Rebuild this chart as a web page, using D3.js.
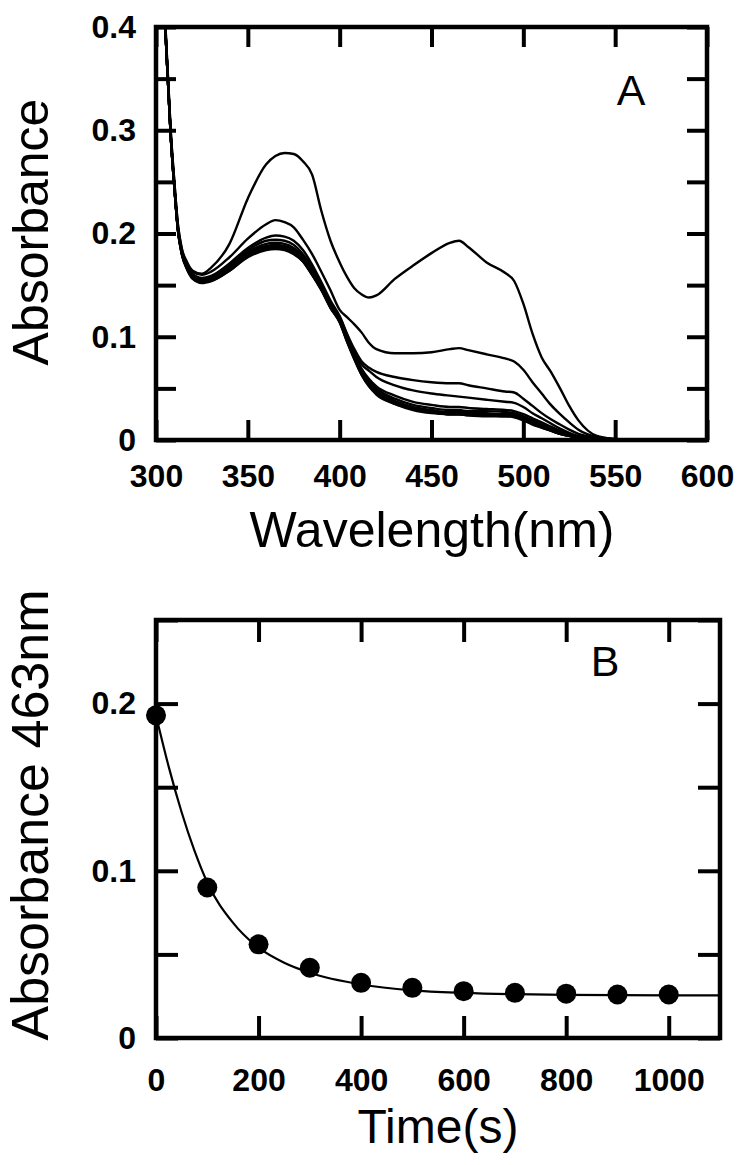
<!DOCTYPE html>
<html><head><meta charset="utf-8">
<script src="https://cdn.jsdelivr.net/npm/d3@7"></script>
<style>body{margin:0;background:#fff} svg{display:block}</style>
</head><body>
<script>
// ---------- Panel A data: spectra (Absorbance vs wavelength) ----------
const wavelengths = [300,302,304,306,308,310,312,314,317,320,325,330,340,350,360,365,370,375,380,385,390,395,400,404,408,412,416,420,430,440,450,460,465,470,480,490,495,500,505,510,515,520,525,530,540,550,560];
const spec_t0    = [.70,.58,.45,.37,.30,.25,.208,.186,.172,.164,.161,.167,.190,.234,.267,.275,.278,.277,.270,.257,.222,.193,.172,.158,.147,.141,.138,.140,.156,.169,.181,.191,.193,.187,.172,.162,.154,.132,.103,.080,.066,.050,.033,.019,.004,.001,0];
const spec_t100  = [.70,.58,.45,.37,.30,.25,.207,.185,.171,.163,.160,.163,.177,.195,.209,.213,.211,.206,.194,.180,.163,.145,.126,.119,.112,.104,.094,.088,.084,.084,.085,.088,.089,.087,.083,.079,.076,.068,.056,.045,.034,.025,.017,.010,.003,.001,0];
const spec_t200  = [.70,.575,.445,.365,.295,.245,.204,.183,.169,.161,.157,.159,.171,.186,.196,.198,.197,.193,.184,.170,.153,.135,.120,.103,.088,.076,.070,.066,.061,.058,.056,.055,.055,.053,.050,.047,.046,.040,.033,.026,.020,.015,.010,.006,.002,.0005,0];
const spec_t300  = [.70,.575,.445,.365,.295,.245,.204,.183,.168,.160,.156,.158,.170,.184,.193,.194,.193,.189,.180,.167,.151,.133,.119,.102,.085,.073,.067,.061,.053,.048,.045,.043,.042,.041,.039,.037,.036,.032,.026,.021,.016,.011,.007,.004,.001,0,0];
const spec_t400  = [.70,.575,.445,.365,.295,.245,.203,.182,.167,.159,.155,.157,.168,.182,.190,.191,.190,.186,.178,.165,.150,.132,.118,.100,.083,.069,.059,.052,.043,.037,.034,.032,.032,.031,.030,.029,.028,.025,.021,.017,.013,.009,.006,.003,.001,0,0];
const spec_t500  = [.70,.575,.445,.365,.295,.245,.203,.182,.167,.159,.155,.156,.167,.181,.188,.189,.188,.184,.177,.164,.149,.131,.117,.099,.082,.067,.057,.050,.040,.034,.031,.029,.029,.028,.028,.027,.026,.023,.019,.015,.011,.008,.005,.003,.001,0,0];
const spec_t600  = [.70,.575,.445,.365,.295,.245,.203,.182,.166,.158,.154,.156,.166,.180,.187,.188,.187,.183,.176,.163,.148,.130,.116,.098,.081,.066,.055,.048,.038,.032,.029,.027,.027,.027,.026,.025,.025,.022,.018,.014,.010,.007,.005,.003,.001,0,0];
const spec_t700  = [.70,.575,.445,.365,.295,.245,.203,.181,.166,.158,.154,.155,.165,.179,.186,.187,.186,.182,.175,.162,.147,.129,.115,.097,.080,.065,.054,.047,.037,.031,.028,.026,.026,.026,.025,.024,.024,.021,.017,.013,.010,.007,.004,.002,.001,0,0];
const spec_t800  = [.70,.575,.445,.365,.295,.245,.202,.181,.166,.157,.153,.155,.165,.178,.185,.186,.185,.181,.174,.161,.146,.129,.115,.096,.079,.064,.053,.046,.036,.030,.027,.025,.025,.025,.024,.024,.023,.020,.016,.013,.009,.006,.004,.002,.001,0,0];
const spec_t900  = [.70,.575,.445,.365,.295,.245,.202,.181,.165,.157,.153,.154,.164,.178,.185,.186,.185,.181,.173,.160,.146,.128,.114,.096,.079,.063,.052,.045,.035,.030,.027,.025,.025,.024,.024,.023,.023,.020,.016,.012,.009,.006,.004,.002,.001,0,0];
const spec_t1000 = [.70,.575,.445,.365,.295,.245,.202,.180,.165,.156,.152,.154,.164,.177,.184,.185,.184,.180,.173,.160,.145,.128,.114,.095,.078,.063,.052,.044,.035,.029,.026,.025,.025,.024,.023,.023,.022,.019,.015,.012,.009,.006,.004,.002,.001,0,0];
const spectra = [spec_t0,spec_t100,spec_t200,spec_t300,spec_t400,spec_t500,spec_t600,spec_t700,spec_t800,spec_t900,spec_t1000];

const ticksAx = [300,350,400,450,500,550,600];
const ticksAy = [0,0.05,0.1,0.15,0.2,0.25,0.3,0.35,0.4];
const labelsAy = [0,0.1,0.2,0.3,0.4];

// ---------- Panel B data: absorbance at 463 nm vs time ----------
const times   = [0,100,200,300,400,500,600,700,800,900,1000];
const abs463  = [0.193,0.090,0.056,0.042,0.033,0.030,0.028,0.027,0.0265,0.026,0.026];
const fitTimes  = [0,25,50,75,100,150,200,250,300,400,500,600,700,800,900,1000,1100];
const fitValues = [0.193,0.162,0.135,0.112,0.093,0.069,0.054,0.045,0.039,0.032,0.0285,0.027,0.0262,0.0258,0.0256,0.0255,0.0255];
const ticksBx = [0,200,400,600,800,1000];
const ticksBy = [0,0.05,0.1,0.15,0.2,0.25];
const labelsBy = [0,0.1,0.2];

const W = 746, H = 1165;
const svg = d3.select("body").append("svg").attr("width", W).attr("height", H)
  .style("font-family", "'Liberation Sans', Arial, sans-serif");

function frameAxes(g, x, y, xt, yt, ylab, fmtY, tick, xpad) {
  const [L, R] = x.range(), [B, T] = y.range();
  const ax = d3.axisBottom(x).tickValues(xt).tickSize(-tick).tickPadding(xpad).tickFormat(d => d);
  const axT = d3.axisTop(x).tickValues(xt).tickSize(-tick).tickFormat("");
  const ay = d3.axisLeft(y).tickValues(yt).tickSize(-tick).tickPadding(20)
      .tickFormat(d => ylab.some(v => Math.abs(v - d) < 1e-9) ? fmtY(d) : "");
  const ayR = d3.axisRight(y).tickValues(yt).tickSize(-tick).tickFormat("");
  g.append("g").attr("transform", `translate(0,${B})`).call(ax);
  g.append("g").attr("transform", `translate(0,${T})`).call(axT);
  g.append("g").attr("transform", `translate(${L},0)`).call(ay);
  g.append("g").attr("transform", `translate(${R},0)`).call(ayR);
  g.selectAll(".domain").remove();
  g.selectAll(".tick line").attr("stroke", "#000").attr("stroke-width", 4);
  g.selectAll(".tick text").attr("fill", "#000").style("font-weight", "bold").style("font-size", "32px");
  g.append("rect").attr("x", L).attr("y", T).attr("width", R - L).attr("height", B - T)
    .attr("fill", "none").attr("stroke", "#000").attr("stroke-width", 4.5);
}
const fmt = d => d === 0 ? "0" : d3.format(".1f")(d);

// ---------- Panel A ----------
const xA = d3.scaleLinear().domain([300, 600]).range([156, 707]);
const yA = d3.scaleLinear().domain([0, 0.4]).range([440, 27]);
const gA = svg.append("g");
svg.append("clipPath").attr("id", "clipA").append("rect")
  .attr("x", 156).attr("y", 27).attr("width", 551).attr("height", 413);
const lineA = d3.line().x((d, i) => xA(wavelengths[i])).y(d => yA(d)).curve(d3.curveMonotoneX);
gA.append("g").attr("clip-path", "url(#clipA)").selectAll("path").data(spectra).join("path")
  .attr("d", d => lineA(d)).attr("fill", "none").attr("stroke", "#000").attr("stroke-width", 2.4);
frameAxes(gA, xA, yA, ticksAx, ticksAy, labelsAy, fmt, 20, 24);
gA.append("text").attr("x", 631).attr("y", 105).attr("text-anchor", "middle")
  .style("font-size", "43px").text("A");
gA.append("text").attr("x", 432).attr("y", 547).attr("text-anchor", "middle")
  .style("font-size", "50px").text("Wavelength(nm)");
gA.append("text").attr("transform", "translate(48,232) rotate(-90)").attr("text-anchor", "middle")
  .style("font-size", "50px").text("Absorbance");

// ---------- Panel B ----------
const xB = d3.scaleLinear().domain([0, 1100]).range([156, 720]);
const yB = d3.scaleLinear().domain([0, 0.25]).range([1038, 620]);
const gB = svg.append("g");
const lineB = d3.line().x((d, i) => xB(fitTimes[i])).y(d => yB(d)).curve(d3.curveMonotoneX);
gB.append("path").attr("d", lineB(fitValues)).attr("fill", "none").attr("stroke", "#000").attr("stroke-width", 2.2);
gB.selectAll("circle").data(abs463).join("circle")
  .attr("cx", (d, i) => xB(times[i])).attr("cy", d => yB(d)).attr("r", 10).attr("fill", "#000");
frameAxes(gB, xB, yB, ticksBx, ticksBy, labelsBy, fmt, 22, 30);
gB.append("text").attr("x", 605).attr("y", 676).attr("text-anchor", "middle")
  .style("font-size", "43px").text("B");
gB.append("text").attr("x", 438).attr("y", 1143).attr("text-anchor", "middle")
  .style("font-size", "48px").text("Time(s)");
gB.append("text").attr("transform", "translate(48,815) rotate(-90)").attr("text-anchor", "middle")
  .style("font-size", "52px").text("Absorbance 463nm");
</script>
</body></html>
